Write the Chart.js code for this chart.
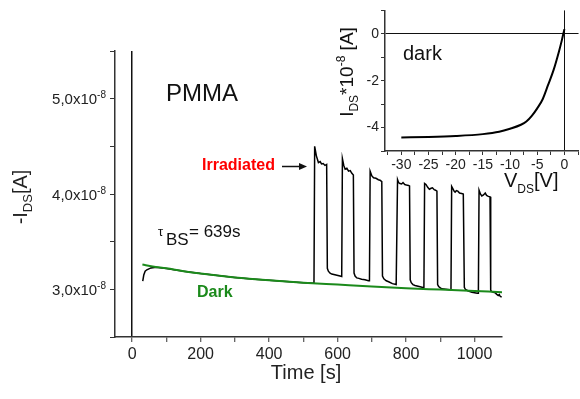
<!DOCTYPE html>
<html>
<head>
<meta charset="utf-8">
<script src="https://cdn.jsdelivr.net/npm/chart.js@4.4.0/dist/chart.umd.min.js"></script>
<style>
  html, body { margin: 0; padding: 0; background: #fff; }
  #wrap { position: relative; width: 580px; height: 399px; }
  #main { position: absolute; left: 0; top: 0; }
  #inset { position: absolute; left: 330px; top: 0; }
</style>
</head>
<body>
<div id="wrap">
  <canvas id="main" width="580" height="399"></canvas>
  <canvas id="inset" width="250" height="200"></canvas>
</div>
<script>
// main trace: time [s] and -I_DS in units of 1e-8 A
const timeS = [
  31, 34, 38, 43, 55, 70, 100, 150, 200, 250, 300, 350, 400, 450, 500, 529,
  531, 533, 538, 544, 549, 553, 558, 563, 568, 570, 573, 578, 583, 595, 607,
  612, 614, 618, 622, 627, 632, 637, 641, 646, 648, 651, 656, 662, 670, 680, 690,
  693, 695, 700, 705, 712, 719, 724, 729, 731, 735, 742, 749, 760, 771,
  773, 775, 778, 782, 787, 791, 796, 801, 807, 810, 812, 815, 820, 826, 838, 849,
  852, 854, 858, 863, 868, 873, 877, 882, 886, 890, 892, 895, 900, 904, 916, 928,
  931, 933, 936, 940, 943, 947, 951, 956, 962, 967, 970, 973, 980, 992, 1000, 1008,
  1011, 1013, 1017, 1021, 1026, 1031, 1035, 1040, 1045, 1047, 1050, 1055, 1060, 1064, 1069, 1072, 1075, 1079
];
const currentE8 = [
  3.085, 3.15, 3.19, 3.205, 3.225, 3.232, 3.218, 3.19, 3.165, 3.145, 3.125, 3.108, 3.094, 3.081, 3.07, 3.065,
  3.07, 4.50, 4.40, 4.33, 4.34, 4.315, 4.32, 4.30, 4.31, 3.22, 3.19, 3.17, 3.16, 3.15, 3.14,
  3.135, 4.37, 4.30, 4.26, 4.27, 4.24, 4.245, 4.22, 4.20, 3.17, 3.14, 3.12, 3.115, 3.105, 3.10, 3.09,
  3.09, 4.24, 4.19, 4.17, 4.165, 4.15, 4.145, 4.13, 3.14, 3.11, 3.09, 3.08, 3.06, 3.05,
  3.05, 4.15, 4.12, 4.11, 4.105, 4.12, 4.10, 4.095, 4.09, 4.085, 3.10, 3.07, 3.05, 3.04, 3.03, 3.02,
  3.02, 4.11, 4.10, 4.07, 4.05, 4.06, 4.065, 4.045, 4.04, 4.03, 3.05, 3.03, 3.015, 3.005, 3.0, 2.995,
  2.995, 4.08, 4.06, 4.03, 4.02, 4.035, 4.03, 4.01, 4.005, 4.0, 3.02, 3.0, 2.985, 2.97, 2.965, 2.96,
  2.96, 4.04, 4.00, 3.98, 3.99, 4.01, 3.985, 3.975, 3.97, 2.99, 2.975, 2.97, 2.965, 2.95, 2.935, 2.945, 2.925, 2.92
];
// dark reference decay
const darkTimeS = [30, 60, 100, 150, 200, 300, 400, 500, 600, 700, 800, 900, 1000, 1080];
const darkCurrentE8 = [3.26, 3.24, 3.22, 3.19, 3.165, 3.125, 3.095, 3.07, 3.05, 3.03, 3.012, 2.997, 2.982, 2.97];

// inset: I_DS vs V_DS in the dark
const vdsV = [-30, -25, -20, -15, -12, -10, -8, -7, -6, -5, -4, -3, -2, -1, -0.5, 0];
const idsE8 = [-4.42, -4.40, -4.36, -4.28, -4.18, -4.05, -3.88, -3.74, -3.50, -3.18, -2.79, -2.18, -1.55, -0.75, -0.3, 0.2];

// tick positions (labels only on the major ones)
const timeTicks = [0, 100, 200, 300, 400, 500, 600, 700, 800, 900, 1000];
const timeLabels = [0, 200, 400, 600, 800, 1000];
const currentTicks = [2.5, 3, 3.5, 4, 4.5, 5, 5.5];
const currentLabels = [3, 4, 5];
const vdsTicks = [-32.5, -30, -27.5, -25, -22.5, -20, -17.5, -15, -12.5, -10, -7.5, -5, -2.5, 0, 2.5];
const vdsLabels = [-30, -25, -20, -15, -10, -5, 0];
const idsTicks = [-5, -4, -3, -2, -1, 0, 1];
const idsLabels = [-4, -2, 0];

const FAMILY = '"Liberation Sans", Arial, sans-serif';

// draw a row of text pieces (for sub/superscripts): [text, size, dy, weight]
function runs(ctx, parts, x, y, align) {
  let w = 0;
  parts.forEach(p => { ctx.font = (p[3] || '') + ' ' + p[1] + 'px ' + FAMILY; w += ctx.measureText(p[0]).width; });
  let cx = align === 'right' ? x - w : align === 'center' ? x - w / 2 : x;
  ctx.textAlign = 'left';
  ctx.textBaseline = 'alphabetic';
  parts.forEach(p => {
    ctx.font = (p[3] || '') + ' ' + p[1] + 'px ' + FAMILY;
    ctx.fillText(p[0], cx, y + (p[2] || 0));
    cx += ctx.measureText(p[0]).width;
  });
}

const setTicks = list => scale => { scale.ticks = list.map(v => ({ value: v })); };
const zeroLine = c => (c.tick && c.tick.value === 0 ? '#111' : 'rgba(0,0,0,0)');

const mainText = {
  id: 'mainText',
  afterDraw(chart) {
    const { ctx, scales: { y } } = chart;
    ctx.save();
    ctx.fillStyle = '#222';
    currentLabels.forEach(v => {
      const py = y.getPixelForValue(v);
      runs(ctx, [[v.toFixed(1).replace('.', ',') + 'x10', 15], ['-8', 10, -6]], 106, py + 5.5, 'right');
    });

    runs(ctx, [['Time [s]', 20]], 306, 379, 'center');
    ctx.save();
    ctx.translate(27, 197);
    ctx.rotate(-Math.PI / 2);
    runs(ctx, [['-I', 20], ['DS', 13, 5], ['[A]', 20]], 0, 0, 'center');
    ctx.restore();

    ctx.fillStyle = '#111';
    runs(ctx, [['PMMA', 24]], 166, 101, 'left');

    ctx.fillStyle = '#ff0000';
    runs(ctx, [['Irradiated', 16, 0, 'bold']], 202, 170, 'left');
    ctx.strokeStyle = '#111';
    ctx.fillStyle = '#111';
    ctx.lineWidth = 1.5;
    ctx.beginPath();
    ctx.moveTo(282, 166.5);
    ctx.lineTo(301, 166.5);
    ctx.stroke();
    ctx.beginPath();
    ctx.moveTo(307, 166.5);
    ctx.lineTo(299, 163);
    ctx.lineTo(299, 170);
    ctx.closePath();
    ctx.fill();

    ctx.fillStyle = '#111';
    runs(ctx, [['τ', 13]], 158, 236, 'left');
    runs(ctx, [['BS', 17]], 166, 245, 'left');
    runs(ctx, [['= 639s', 17]], 189, 237, 'left');

    ctx.fillStyle = '#1b8a1b';
    runs(ctx, [['Dark', 16, 0, 'bold']], 197, 296.5, 'left');
    ctx.restore();
  }
};

new Chart(document.getElementById('main'), {
  type: 'line',
  data: {
    datasets: [
      {
        data: darkTimeS.map((t, i) => ({ x: t, y: darkCurrentE8[i] })),
        borderColor: '#1b8a1b',
        borderWidth: 2,
        pointRadius: 0,
        cubicInterpolationMode: 'monotone',
        order: 0
      },
      {
        data: timeS.map((t, i) => ({ x: t, y: currentE8[i] })),
        borderColor: '#000',
        borderWidth: 1.5,
        pointRadius: 0,
        tension: 0,
        order: 1
      }
    ]
  },
  options: {
    responsive: false,
    animation: false,
    events: [],
    plugins: { legend: { display: false }, tooltip: { enabled: false } },
    layout: { padding: { top: 51, right: 78, left: 0, bottom: 0 } },
    scales: {
      x: {
        type: 'linear',
        min: -50,
        max: 1080,
        afterBuildTicks: setTicks(timeTicks),
        afterFit: s => { s.height = 62; },
        border: { display: true, color: '#333', width: 1.5 },
        grid: { color: zeroLine, lineWidth: 1.5, tickColor: '#333', tickWidth: 1, tickLength: 5 },
        ticks: {
          autoSkip: false,
          maxRotation: 0,
          padding: 3,
          color: '#222',
          font: { family: FAMILY, size: 16 },
          callback: v => (timeLabels.includes(v) ? String(v) : '')
        }
      },
      y: {
        min: 2.5,
        max: 5.5,
        afterBuildTicks: setTicks(currentTicks),
        afterFit: s => { s.width = 115; },
        border: { display: true, color: '#333', width: 1.5 },
        grid: { color: 'rgba(0,0,0,0)', tickColor: '#333', tickWidth: 1, tickLength: 5 },
        ticks: { autoSkip: false, callback: () => '' }
      }
    }
  },
  plugins: [mainText]
});

const insetText = {
  id: 'insetText',
  afterDraw(chart) {
    const ctx = chart.ctx;
    ctx.save();
    ctx.fillStyle = '#111';
    runs(ctx, [['dark', 20]], 73, 60, 'left');
    runs(ctx, [['V', 20], ['DS', 12, 6], ['[V]', 20]], 174, 187, 'left');
    ctx.translate(23, 72);
    ctx.rotate(-Math.PI / 2);
    runs(ctx, [['I', 19], ['DS', 12, 5], ['*10', 19], ['-8', 12, -8], [' [A]', 19]], 0, 0, 'center');
    ctx.restore();
  }
};

new Chart(document.getElementById('inset'), {
  type: 'line',
  data: {
    datasets: [{
      data: vdsV.map((v, i) => ({ x: v, y: idsE8[i] })),
      borderColor: '#000',
      borderWidth: 2,
      pointRadius: 0,
      cubicInterpolationMode: 'monotone'
    }]
  },
  options: {
    responsive: false,
    animation: false,
    events: [],
    plugins: { legend: { display: false }, tooltip: { enabled: false } },
    layout: { padding: { top: 8, right: 0, left: 0, bottom: 0 } },
    scales: {
      x: {
        type: 'linear',
        min: -33,
        max: 2.6,
        afterBuildTicks: setTicks(vdsTicks),
        afterFit: s => { s.height = 49; },
        border: { display: true, color: '#333', width: 1.5 },
        grid: { color: zeroLine, lineWidth: 1, tickColor: '#333', tickWidth: 1, tickLength: 4 },
        ticks: {
          autoSkip: false,
          maxRotation: 0,
          padding: 2,
          color: '#222',
          font: { family: FAMILY, size: 14 },
          callback: v => (vdsLabels.includes(v) ? String(v) : '')
        }
      },
      y: {
        min: -5,
        max: 1,
        afterBuildTicks: setTicks(idsTicks),
        afterFit: s => { s.width = 55; },
        border: { display: true, color: '#333', width: 1.5 },
        grid: { color: zeroLine, lineWidth: 1, tickColor: '#333', tickWidth: 1, tickLength: 4 },
        ticks: {
          autoSkip: false,
          padding: 2,
          color: '#222',
          font: { family: FAMILY, size: 14 },
          callback: v => (idsLabels.includes(v) ? String(v) : '')
        }
      }
    }
  },
  plugins: [insetText]
});
</script>
</body>
</html>
